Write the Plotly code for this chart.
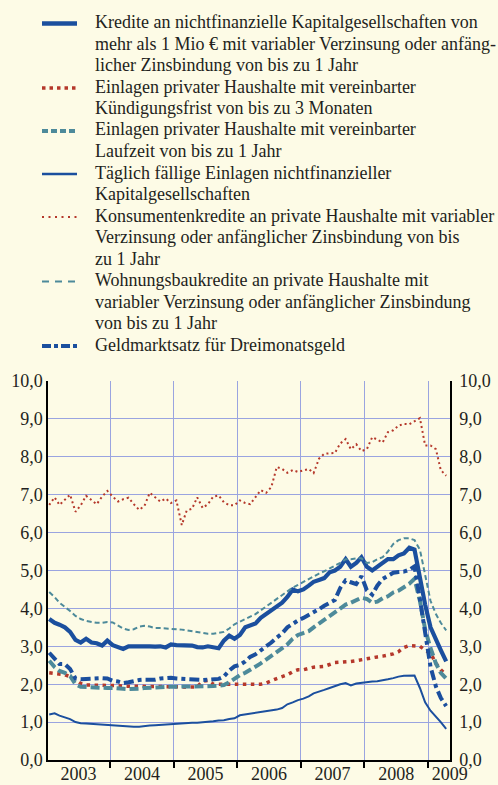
import pandas as pd
import plotly.graph_objects as go

months = pd.date_range("2003-01-01", "2009-04-01", freq="MS") + pd.Timedelta(days=14)

kredite_nfk = [
    3.72, 3.62, 3.57, 3.50, 3.38, 3.17, 3.10, 3.20, 3.10, 3.08, 3.02, 3.15,
    3.03, 2.98, 2.93, 3.00, 3.00, 3.00, 3.02, 3.00, 2.99, 3.00, 2.97, 3.05,
    3.03, 3.03, 3.02, 3.02, 2.98, 2.97, 3.00, 2.98, 2.95, 3.15, 3.28, 3.20,
    3.30, 3.50, 3.55, 3.60, 3.75, 3.85, 3.95, 4.05, 4.15, 4.30, 4.50, 4.45,
    4.50, 4.60, 4.70, 4.75, 4.80, 4.95, 5.00, 5.10, 5.30, 5.10, 5.20, 5.35,
    5.10, 5.00, 5.10, 5.20, 5.30, 5.30, 5.40, 5.45, 5.60, 5.55, 4.80, 4.10,
    3.50, 3.15, 2.90, 2.60,
]
einlagen_kuendigung = [
    2.30, 2.28, 2.27, 2.25, 2.20, 2.10, 2.02, 1.98, 1.98, 1.98, 1.98, 1.97,
    1.97, 1.96, 1.95, 1.95, 1.94, 1.94, 1.95, 1.95, 1.95, 1.95, 1.95, 1.94,
    1.94, 1.93, 1.92, 1.92, 1.93, 2.08, 2.10, 2.00, 2.00, 2.00, 2.00, 1.99,
    1.99, 1.98, 1.98, 2.00, 2.00, 2.03, 2.10, 2.15, 2.20, 2.25, 2.33, 2.38,
    2.38, 2.42, 2.45, 2.46, 2.47, 2.52, 2.57, 2.58, 2.58, 2.60, 2.62, 2.65,
    2.68, 2.70, 2.72, 2.74, 2.76, 2.80, 2.86, 2.97, 3.02, 3.02, 3.00, 2.90,
    2.82, 2.55, 2.38, 2.25,
]
einlagen_laufzeit = [
    2.62, 2.45, 2.35, 2.30, 2.22, 2.00, 1.93, 1.92, 1.92, 1.92, 1.90, 1.90,
    1.90, 1.90, 1.88, 1.87, 1.87, 1.88, 1.90, 1.90, 1.90, 1.92, 1.93, 1.93,
    1.93, 1.93, 1.93, 1.94, 1.94, 1.95, 1.95, 1.95, 1.96, 1.98, 2.05, 2.15,
    2.24, 2.30, 2.37, 2.45, 2.55, 2.65, 2.75, 2.85, 2.97, 3.05, 3.20, 3.30,
    3.35, 3.40, 3.50, 3.60, 3.70, 3.80, 3.90, 3.98, 4.10, 4.15, 4.22, 4.28,
    4.25, 4.15, 4.18, 4.27, 4.32, 4.42, 4.47, 4.55, 4.65, 4.78, 4.20, 3.45,
    2.95, 2.55, 2.30, 2.15,
]
taeglich_faellig = [
    1.20, 1.23, 1.17, 1.13, 1.08, 1.00, 0.97, 0.96, 0.95, 0.94, 0.92, 0.91,
    0.90, 0.90, 0.90, 0.89, 0.88, 0.88, 0.90, 0.91, 0.92, 0.93, 0.94, 0.95,
    0.96, 0.97, 0.97, 0.98, 0.98, 0.99, 1.00, 1.02, 1.04, 1.05, 1.08, 1.10,
    1.18, 1.20, 1.22, 1.25, 1.27, 1.28, 1.30, 1.33, 1.37, 1.47, 1.52, 1.58,
    1.62, 1.68, 1.76, 1.80, 1.85, 1.90, 1.95, 2.00, 2.03, 1.97, 2.02, 2.04,
    2.05, 2.07, 2.08, 2.10, 2.13, 2.16, 2.20, 2.22, 2.23, 2.23, 1.90, 1.52,
    1.30, 1.15, 1.00, 0.82,
]
konsumentenkredite = [
    6.73, 6.93, 6.73, 6.88, 7.00, 6.55, 6.72, 6.97, 6.87, 6.75, 6.95, 7.10,
    6.95, 6.82, 6.88, 6.92, 6.75, 6.60, 6.70, 7.05, 6.93, 6.82, 6.90, 6.78,
    6.85, 6.20, 6.58, 6.63, 6.93, 6.65, 6.75, 6.95, 6.98, 6.80, 6.72, 6.72,
    6.85, 6.78, 6.75, 6.93, 7.12, 7.05, 7.20, 7.73, 7.68, 7.58, 7.65, 7.60,
    7.65, 7.68, 7.57, 7.95, 8.08, 8.10, 8.10, 8.35, 8.47, 8.20, 8.33, 8.15,
    8.20, 8.52, 8.45, 8.38, 8.65, 8.70, 8.82, 8.87, 8.86, 8.93, 9.02, 8.30,
    8.30, 8.20, 7.65, 7.50,
]
wohnungsbaukredite = [
    4.43, 4.30, 4.15, 4.05, 3.93, 3.80, 3.72, 3.67, 3.64, 3.62, 3.62, 3.64,
    3.63, 3.55, 3.47, 3.43, 3.45, 3.52, 3.54, 3.52, 3.48, 3.48, 3.47, 3.47,
    3.46, 3.44, 3.42, 3.40, 3.37, 3.35, 3.33, 3.33, 3.35, 3.38, 3.47, 3.58,
    3.65, 3.72, 3.78, 3.85, 3.95, 4.05, 4.15, 4.25, 4.35, 4.45, 4.55, 4.62,
    4.70, 4.78, 4.85, 4.92, 4.98, 5.05, 5.12, 5.20, 5.30, 5.30, 5.32, 5.32,
    5.20, 5.22, 5.30, 5.35, 5.50, 5.70, 5.80, 5.85, 5.85, 5.80, 5.55, 4.90,
    4.20, 3.85, 3.62, 3.42,
]
geldmarktsatz = [
    2.83, 2.69, 2.53, 2.53, 2.40, 2.15, 2.13, 2.14, 2.15, 2.14, 2.16, 2.15,
    2.09, 2.07, 2.03, 2.05, 2.09, 2.11, 2.12, 2.11, 2.12, 2.15, 2.17, 2.17,
    2.15, 2.14, 2.14, 2.14, 2.13, 2.11, 2.12, 2.13, 2.14, 2.20, 2.36, 2.47,
    2.51, 2.60, 2.72, 2.79, 2.89, 2.99, 3.10, 3.23, 3.34, 3.50, 3.60, 3.68,
    3.75, 3.82, 3.89, 3.98, 4.07, 4.15, 4.22, 4.54, 4.74, 4.69, 4.64, 4.85,
    4.48, 4.36, 4.60, 4.78, 4.86, 4.94, 4.96, 4.97, 5.02, 5.11, 4.24, 3.29,
    2.46, 1.94, 1.64, 1.42,
]

series_names = [
    ["Kredite an nichtfinanzielle Kapitalgesellschaften von",
     "mehr als 1 Mio € mit variabler Verzinsung oder anfäng-",
     "licher Zinsbindung von bis zu 1 Jahr"],
    ["Einlagen privater Haushalte mit vereinbarter",
     "Kündigungsfrist von bis zu 3 Monaten"],
    ["Einlagen privater Haushalte mit vereinbarter",
     "Laufzeit von bis zu 1 Jahr"],
    ["Täglich fällige Einlagen nichtfinanzieller",
     "Kapitalgesellschaften"],
    ["Konsumentenkredite an private Haushalte mit variabler",
     "Verzinsung oder anfänglicher Zinsbindung von bis",
     "zu 1 Jahr"],
    ["Wohnungsbaukredite an private Haushalte mit",
     "variabler Verzinsung oder anfänglicher Zinsbindung",
     "von bis zu 1 Jahr"],
    ["Geldmarktsatz für Dreimonatsgeld"],
]
year_labels = ["2003", "2004", "2005", "2006", "2007", "2008", "2009"]
y_ticks = [0, 1, 2, 3, 4, 5, 6, 7, 8, 9, 10]

BLUE = "#1b4f9e"
RED = "#b5382b"
TEAL = "#4d8a9a"
BG = "#fdfbe6"
GRID = "#9aa4e0"
FONT = "Liberation Serif"
TXT = "#231f20"

styles = [
    dict(color=BLUE, width=4.2, dash="solid"),
    dict(color=RED, width=3.5, dash="3.5px,4.5px"),
    dict(color=TEAL, width=4, dash="9px,4px"),
    dict(color=BLUE, width=2, dash="solid"),
    dict(color=RED, width=2, dash="2px,3px"),
    dict(color=TEAL, width=2, dash="5px,3px"),
    dict(color=BLUE, width=4, dash="10px,4px,4px,4px"),
]
legend_styles = [
    dict(color=BLUE, width=4.5, dash="solid"),
    dict(color=RED, width=3.5, dash="3.5px,4px"),
    dict(color=TEAL, width=4, dash="6px,3px"),
    dict(color=BLUE, width=2.5, dash="solid"),
    dict(color=RED, width=1.8, dash="2px,4.5px"),
    dict(color=TEAL, width=2, dash="7px,6px"),
    dict(color=BLUE, width=4, dash="9px,3px,4px,3px"),
]
values = [kredite_nfk, einlagen_kuendigung, einlagen_laufzeit, taeglich_faellig,
          konsumentenkredite, wohnungsbaukredite, geldmarktsatz]

L, R, T, B, W, H = 48, 48, 381, 25, 498, 785
PW, PH = W - L - R, H - T - B


def px(xpix):
    return (xpix - L) / PW


def py(ypix):
    return (H - B - ypix) / PH


fig = go.Figure()
for lines, vals, st in zip(series_names, values, styles):
    fig.add_trace(go.Scatter(x=months, y=vals, mode="lines", name=" ".join(lines),
                             line=st, showlegend=False))

# manual legend (sample line + one text row per line)
annotations = []
shapes = []
row = 0
for lines, st in zip(series_names, legend_styles):
    base = 28 + 21.5 * row
    shapes.append(dict(type="line", xref="paper", yref="paper",
                       x0=px(42), x1=px(77), y0=py(base - 4.5), y1=py(base - 4.5),
                       line=st))
    for ln in lines:
        b = 28 + 21.5 * row
        annotations.append(dict(text=ln, xref="paper", yref="paper",
                                x=px(93), y=py(b - 6), xanchor="left", yanchor="middle",
                                showarrow=False, align="left",
                                font=dict(family=FONT, size=18, color=TXT)))
        row += 1

x_range = ["2003-01-08", "2009-05-07"]
year_starts = [f"{y}-01-01" for y in range(2003, 2010)]
label_pos = [f"{y}-07-02" for y in year_labels[:-1]] + ["2009-05-05"]

fig.update_layout(
    width=W, height=H,
    margin=dict(l=L, r=R, t=T, b=B, autoexpand=False),
    paper_bgcolor=BG, plot_bgcolor=BG,
    font=dict(family=FONT, size=18, color=TXT),
    separators=",.",
    showlegend=False,
    annotations=annotations,
    shapes=shapes,
    xaxis=dict(
        type="date", range=x_range, tickvals=year_starts, showticklabels=False,
        showgrid=True, gridcolor=GRID, gridwidth=1.2,
        showline=True, linecolor="black", linewidth=1.5,
        ticks="outside", ticklen=6, tickcolor="black", tickwidth=1.5,
        zeroline=False,
    ),
    xaxis2=dict(
        type="date", range=x_range, overlaying="x", anchor="y", side="bottom",
        tickvals=label_pos, ticktext=year_labels, ticks="", showgrid=False,
        showline=False, zeroline=False, ticklabelstandoff=1,
        tickfont=dict(family=FONT, size=18, color=TXT),
    ),
    yaxis=dict(
        range=[0, 10], tickvals=y_ticks, tickformat=".1f",
        showgrid=True, gridcolor=GRID, gridwidth=1.2,
        showline=True, linecolor="black", linewidth=1.5,
        ticks="", zeroline=False,
        tickfont=dict(family=FONT, size=18, color=TXT),
    ),
    yaxis2=dict(
        range=[0, 10], tickvals=y_ticks, tickformat=".1f",
        overlaying="y", side="right", anchor="x",
        showgrid=False, showline=True, linecolor="black", linewidth=1.5,
        ticks="", zeroline=False, ticklabelstandoff=4,
        tickfont=dict(family=FONT, size=18, color=TXT),
    ),
)
fig.add_trace(go.Scatter(x=[months[0], months[-1]], y=[0, 10], xaxis="x2", yaxis="y2",
                         mode="lines", line=dict(width=0), opacity=0,
                         showlegend=False, hoverinfo="skip"))

fig.write_html("out.html", config={"displayModeBar": False},
               post_script="document.body.style.margin='0';")
